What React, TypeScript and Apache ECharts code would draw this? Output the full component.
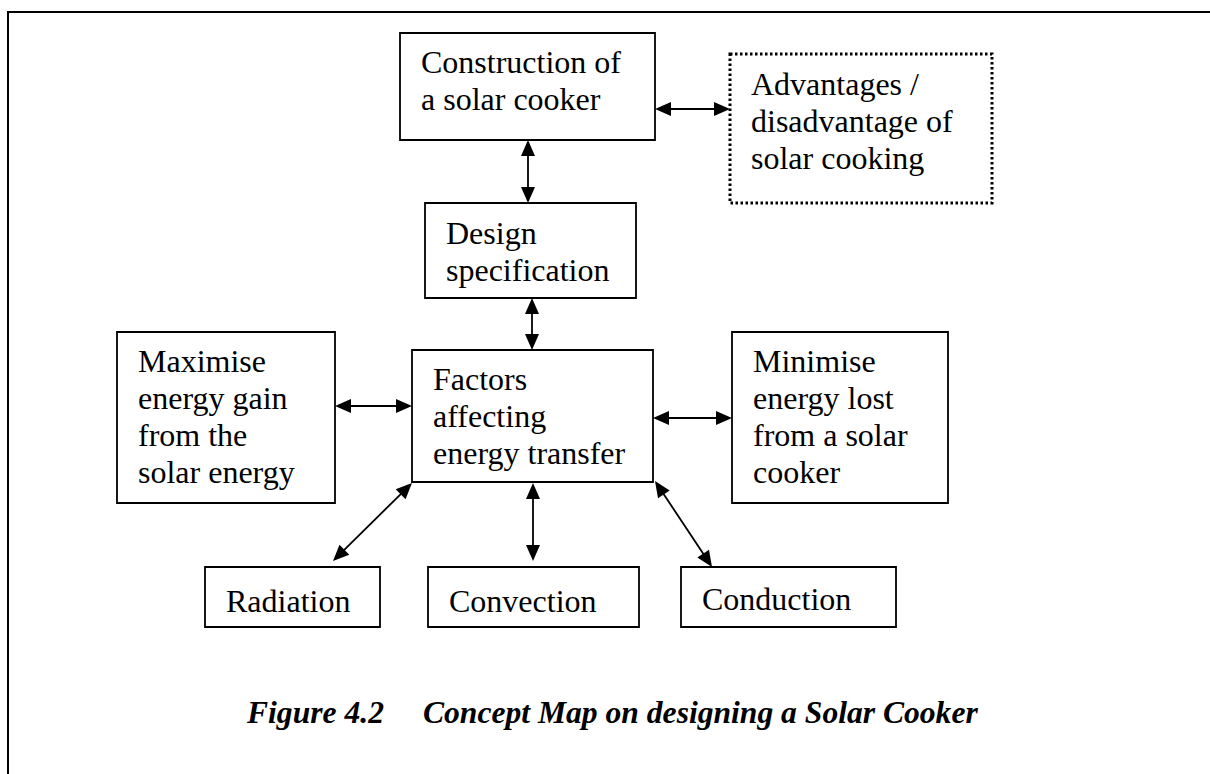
import React, { useEffect, useRef } from "react";
import * as echarts from "echarts";

// ---- content ----
const nodeLabels: string[] = [
  "Construction of\na solar cooker",
  "Advantages /\ndisadvantage of\nsolar cooking",
  "Design\nspecification",
  "Maximise\nenergy gain\nfrom the\nsolar energy",
  "Factors\naffecting\nenergy transfer",
  "Minimise\nenergy lost\nfrom a solar\ncooker",
  "Radiation",
  "Convection",
  "Conduction",
];
// pairs of connected nodes (double-headed arrows)
const edgePairs: number[][] = [
  [0, 1],
  [0, 2],
  [2, 4],
  [3, 4],
  [4, 5],
  [4, 6],
  [4, 7],
  [4, 8],
];
const captionFigure = "Figure 4.2";
const captionTitle = "Concept Map on designing a Solar Cooker";

// ---- layout (page pixels) ----
const nodeBoxes: number[][] = [
  [400, 33, 655, 140],
  [730, 54, 992, 203],
  [425, 203, 636, 298],
  [117, 332, 335, 503],
  [412, 350, 653, 482],
  [732, 332, 948, 503],
  [205, 567, 380, 627],
  [428, 567, 639, 627],
  [681, 567, 896, 627],
];
const nodeDashed: boolean[] = [false, true, false, false, false, false, false, false, false];
const nodeBaseline: number[] = [40, 41, 41, 40, 40, 40, 45, 45, 43];
const edgeEnds: number[][] = [
  [655, 109, 730, 109],
  [528, 140, 528, 203],
  [532, 298, 532, 350],
  [335, 406, 412, 406],
  [653, 418, 732, 418],
  [412, 483, 333, 561],
  [533, 483, 533, 561],
  [655, 481, 712, 567],
];

const W = 1210;
const H = 774;
const FAMILY = "Liberation Serif";
const CAP_SIZE = 31.6;

export default function App() {
  const ref = useRef<HTMLDivElement>(null);
  useEffect(() => {
    document.body.style.margin = "0";
    const chart = echarts.init(ref.current!, null, { renderer: "svg" });
    const boxData = nodeBoxes.map((b, i) => [b[0], b[1], b[2], b[3], i]);
    const arrowData = edgeEnds.map((e, i) => [e[0], e[1], e[2], e[3], edgePairs[i][0], edgePairs[i][1]]);
    chart.setOption({
      animation: false,
      backgroundColor: "#ffffff",
      grid: { left: 0, right: 0, top: 0, bottom: 0 },
      xAxis: { type: "value", min: 0, max: W, show: false },
      yAxis: { type: "value", min: 0, max: H, inverse: true, show: false },
      graphic: [
        {
          type: "polyline",
          shape: { points: [[8, H], [8, 12], [W, 12]] },
          style: { stroke: "#000", lineWidth: 2, fill: null },
        },
        {
          type: "text",
          x: 247,
          y: 723 - 0.3375 * CAP_SIZE,
          style: {
            text: captionFigure,
            fontFamily: FAMILY,
            fontSize: CAP_SIZE,
            fontStyle: "italic",
            fontWeight: "bold",
            fill: "#000",
            verticalAlign: "middle",
          },
        },
        {
          type: "text",
          x: 423,
          y: 723 - 0.3375 * CAP_SIZE,
          style: {
            text: captionTitle,
            fontFamily: FAMILY,
            fontSize: CAP_SIZE,
            fontStyle: "italic",
            fontWeight: "bold",
            fill: "#000",
            verticalAlign: "middle",
          },
        },
      ],
      series: [
        {
          type: "custom",
          coordinateSystem: "cartesian2d",
          data: boxData,
          encode: { x: [0, 2], y: [1, 3] },
          renderItem: (params: any, api: any) => {
            const i = api.value(4);
            const p0 = api.coord([api.value(0), api.value(1)]);
            const p1 = api.coord([api.value(2), api.value(3)]);
            const dashed = nodeDashed[i];
            return {
              type: "group",
              children: [
                {
                  type: "rect",
                  shape: { x: p0[0], y: p0[1], width: p1[0] - p0[0], height: p1[1] - p0[1] },
                  style: {
                    fill: "#fff",
                    stroke: "#000",
                    lineWidth: dashed ? 3 : 1.8,
                    lineDash: dashed ? [2.5, 2.5] : null,
                  },
                },
                {
                  type: "text",
                  x: p0[0] + 21,
                  y: p0[1] + nodeBaseline[i] - 29.3,
                  style: {
                    text: nodeLabels[i],
                    fontFamily: FAMILY,
                    fontSize: 32,
                    lineHeight: 37,
                    fill: "#000",
                    align: "left",
                    verticalAlign: "top",
                  },
                },
              ],
            };
          },
        },
        {
          type: "custom",
          coordinateSystem: "cartesian2d",
          data: arrowData,
          encode: { x: [0, 2], y: [1, 3] },
          renderItem: (params: any, api: any) => {
            const a = api.coord([api.value(0), api.value(1)]);
            const b = api.coord([api.value(2), api.value(3)]);
            const dx = b[0] - a[0];
            const dy = b[1] - a[1];
            const len = Math.sqrt(dx * dx + dy * dy);
            const ux = dx / len;
            const uy = dy / len;
            const hl = 16;
            const hw = 7;
            const head = (tip: number[], dirx: number, diry: number) => {
              const bx = tip[0] - dirx * hl;
              const by = tip[1] - diry * hl;
              return [
                [tip[0], tip[1]],
                [bx - diry * hw, by + dirx * hw],
                [bx + diry * hw, by - dirx * hw],
              ];
            };
            return {
              type: "group",
              children: [
                {
                  type: "line",
                  shape: {
                    x1: a[0] + ux * (hl - 2),
                    y1: a[1] + uy * (hl - 2),
                    x2: b[0] - ux * (hl - 2),
                    y2: b[1] - uy * (hl - 2),
                  },
                  style: { stroke: "#000", lineWidth: 1.8 },
                },
                { type: "polygon", shape: { points: head(a, -ux, -uy) }, style: { fill: "#000" } },
                { type: "polygon", shape: { points: head(b, ux, uy) }, style: { fill: "#000" } },
              ],
            };
          },
        },
      ],
    });
    return () => chart.dispose();
  }, []);
  return <div ref={ref} style={{ width: W, height: H }} />;
}
